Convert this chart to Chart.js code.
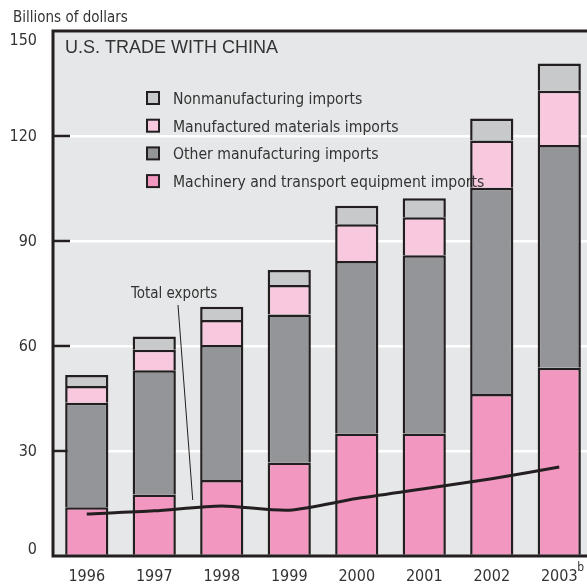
<!DOCTYPE html>
<html>
<head>
<meta charset="utf-8">
<script src="https://cdn.jsdelivr.net/npm/chart.js@4"></script>
<style>
  body { margin: 0; overflow: hidden; background: #fff; }
  #wrap { position: absolute; left: 0; top: 0; }
</style>
</head>
<body>
<div id="wrap"><canvas id="myChart" width="600" height="584"></canvas></div>
<script>
var years = ['1996', '1997', '1998', '1999', '2000', '2001', '2002', '2003'];
var machinery = [13.9, 17.6, 21.7, 26.7, 35.0, 35.0, 46.3, 53.8];
var otherManuf = [29.9, 35.5, 38.6, 42.3, 49.3, 50.9, 58.9, 63.6];
var materials = [4.8, 5.8, 7.1, 8.4, 10.5, 10.9, 13.5, 15.5];
var nonManuf = [3.1, 3.8, 3.8, 4.3, 5.3, 5.4, 6.3, 7.8];
var exports = [12.0, 12.9, 14.3, 13.1, 16.4, 19.2, 22.1, 25.4];
var yTicks = [0, 30, 60, 90, 120, 150];

var ink = '#231f20';
var narrow = "'DejaVu Sans Condensed', 'Liberation Sans Narrow', sans-serif";

function barSet(label, data, color) {
  return {
    type: 'bar',
    label: label,
    data: data,
    backgroundColor: color,
    borderColor: ink,
    borderWidth: 2.5,
    borderSkipped: 'start',
    stack: 'imports',
    categoryPercentage: 1,
    barPercentage: 0.64,
    order: 2
  };
}

var decor = {
  id: 'decor',
  beforeDraw: function(chart) {
    var a = chart.chartArea, c = chart.ctx;
    c.save();
    c.fillStyle = '#e6e7e8';
    c.fillRect(a.left, a.top, a.right - a.left, a.bottom - a.top);
    c.restore();
  },
  beforeDatasetsDraw: function(chart) {
    var a = chart.chartArea, c = chart.ctx, y = chart.scales.y;
    c.save();
    c.strokeStyle = ink;
    c.lineWidth = 2.5;
    yTicks.forEach(function(t) {
      if (t === 0 || t === 150) return;
      var py = Math.round(y.getPixelForValue(t));
      c.beginPath();
      c.moveTo(a.left, py);
      c.lineTo(a.left + 17, py);
      c.stroke();
    });
    c.restore();
  },
  afterDraw: function(chart) {
    var a = chart.chartArea, c = chart.ctx, x = chart.scales.x, y = chart.scales.y;
    c.save();
    // frame
    c.strokeStyle = ink;
    c.lineWidth = 3;
    c.beginPath();
    c.moveTo(a.right + 5, a.top);
    c.lineTo(a.left, a.top);
    c.lineTo(a.left, a.bottom);
    c.lineTo(a.right + 5, a.bottom);
    c.stroke();

    c.fillStyle = '#333';
    c.textBaseline = 'alphabetic';
    c.textAlign = 'left';
    c.font = '15px ' + narrow;
    c.fillText('Billions of dollars', 13, 22);

    // y tick labels, end ones pulled inside the frame
    c.font = '16px ' + narrow;
    c.textAlign = 'right';
    c.textBaseline = 'middle';
    yTicks.forEach(function(t) {
      var py = y.getPixelForValue(t);
      if (t === 150) py += 9;
      if (t === 0) py -= 7;
      c.fillText(String(t), 37, py + 1);
    });
    c.textAlign = 'left';
    c.textBaseline = 'alphabetic';

    c.font = '18px "Liberation Sans", sans-serif';
    c.fillText('U.S. TRADE WITH CHINA', a.left + 12, a.top + 22);

    // legend, top item is last dataset
    c.font = '15.6px ' + narrow;
    var rows = [3, 2, 1, 0];
    rows.forEach(function(di, i) {
      var ds = chart.data.datasets[di];
      var cy = a.top + 67 + i * 27.7;
      c.fillStyle = ds.backgroundColor;
      c.fillRect(147, cy - 6, 12, 12);
      c.strokeStyle = ink;
      c.lineWidth = 2;
      c.strokeRect(147, cy - 6, 12, 12);
      c.fillStyle = '#333';
      c.fillText(ds.label, 173, cy + 6);
    });

    // total exports label and leader
    c.font = '15px ' + narrow;
    c.fillText('Total exports', 131, 298);
    c.strokeStyle = ink;
    c.lineWidth = 1;
    c.beginPath();
    c.moveTo(178, 305);
    c.lineTo(x.getPixelForValue(1.57), y.getPixelForValue(16));
    c.stroke();

    // footnote marker on last year
    var lx = x.getPixelForValue(7);
    c.font = '12px ' + narrow;
    c.fillText('b', lx + 18, a.bottom + 15);
    c.restore();
  }
};

var ctx = document.getElementById('myChart');

var myChart = new Chart(ctx, {
  data: {
    labels: years,
    datasets: [
      barSet('Machinery and transport equipment imports', machinery, '#f297c0'),
      barSet('Other manufacturing imports', otherManuf, '#939598'),
      barSet('Manufactured materials imports', materials, '#f8c8df'),
      barSet('Nonmanufacturing imports', nonManuf, '#c8c9cb'),
      {
        type: 'line',
        label: 'Total exports',
        data: exports,
        borderColor: ink,
        borderWidth: 3,
        pointRadius: 0,
        tension: 0.25,
        fill: false,
        stack: 'exports',
        order: 0
      }
    ]
  },
  options: {
    responsive: false,
    animation: false,
    layout: { padding: { top: 31, right: 7, left: 0, bottom: 0 } },
    plugins: {
      legend: { display: false },
      tooltip: { enabled: false }
    },
    scales: {
      x: {
        stacked: true,
        grid: { display: false },
        border: { display: false },
        ticks: {
          color: '#333',
          font: { family: narrow, size: 16 },
          padding: 3,
          maxRotation: 0
        },
        afterFit: function(s) { s.height = 28; }
      },
      y: {
        stacked: true,
        min: 0,
        max: 150,
        grid: { color: '#ffffff', lineWidth: 2.5, drawTicks: false },
        border: { display: false },
        ticks: { stepSize: 30, display: false },
        afterFit: function(s) { s.width = 53; }
      }
    }
  },
  plugins: [decor]
});
</script>
</body>
</html>
